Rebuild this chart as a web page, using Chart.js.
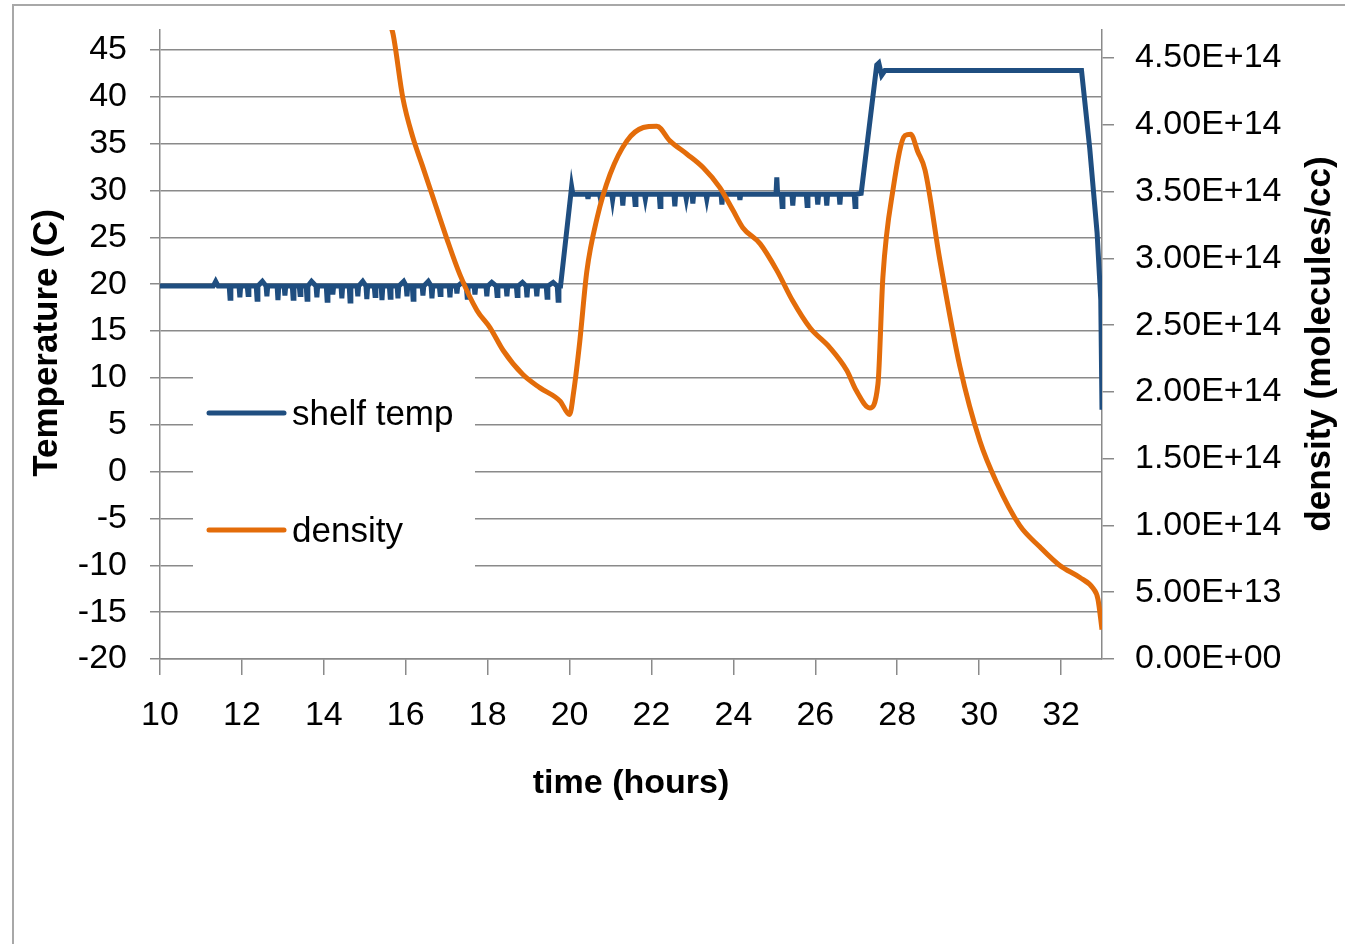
<!DOCTYPE html>
<html>
<head>
<meta charset="utf-8">
<title>shelf temp / density</title>
<script src="https://cdn.jsdelivr.net/npm/chart.js@4"></script>
<style>
  html, body { margin: 0; padding: 0; background: #fff; overflow: hidden; }
  #frame { position: absolute; left: 12px; top: 4px; width: 1400px; height: 1000px; border: 2px solid #a8a8a8; }
  #chart { position: absolute; left: 0; top: 0; }
</style>
</head>
<body>
<div id="frame"></div>
<canvas id="chart" width="1345" height="944"></canvas>
<script>
// tick labels
const timeTicks = [10, 12, 14, 16, 18, 20, 22, 24, 26, 28, 30, 32];
const tempTicks = [-20, -15, -10, -5, 0, 5, 10, 15, 20, 25, 30, 35, 40, 45];
const densityTicks = [0, 5e13, 1e14, 1.5e14, 2e14, 2.5e14, 3e14, 3.5e14, 4e14, 4.5e14];

// shelf temp (hours, C)
const tempTime = [
  10.00, 11.30, 11.36, 11.42,
  11.69, 11.71, 11.73,  11.93, 11.95, 11.97,  12.13, 12.15, 12.17,  12.35, 12.37, 12.39,
  12.50,
  12.59, 12.61, 12.63,  12.86, 12.88, 12.90,  13.03, 13.05, 13.07,  13.23, 13.25, 13.27,
  13.40, 13.42, 13.44,  13.57, 13.59, 13.61,
  13.70,
  13.81, 13.83, 13.85,  14.06, 14.08, 14.10,  14.20, 14.22, 14.24,  14.42, 14.44, 14.46,
  14.62, 14.64, 14.66,  14.81, 14.83, 14.85,
  14.95,
  15.03, 15.05, 15.07,  15.23, 15.25, 15.27,  15.40, 15.42, 15.44,  15.60, 15.62, 15.64,
  15.79, 15.81, 15.83,
  15.95,
  16.01, 16.03, 16.05,  16.16, 16.18, 16.20,  16.40, 16.42, 16.44,
  16.55,
  16.62, 16.64, 16.66,  16.82, 16.84, 16.86,  17.06, 17.08, 17.10,  17.23, 17.25, 17.27,
  17.38,
  17.48, 17.50, 17.52,  17.67, 17.69, 17.71,  17.96, 17.98, 18.00,
  18.10,
  18.21, 18.23, 18.25,  18.45, 18.47, 18.49,  18.70, 18.72, 18.74,
  18.85,
  18.94, 18.96, 18.98,  19.18, 19.20, 19.22,  19.43, 19.45, 19.47,
  19.60,
  19.70, 19.72, 19.74,  19.78,
  20.03, 20.05, 20.08,
  20.43, 20.45, 20.47,  20.73, 20.75, 20.77,  21.03, 21.05, 21.07,
  21.28, 21.30, 21.32,  21.58, 21.60, 21.62,  21.83, 21.85, 21.87,
  22.19, 22.21, 22.23,  22.55, 22.57, 22.59,  22.83, 22.85, 22.87,
  22.99, 23.01, 23.03,  23.33, 23.35, 23.37,  23.70, 23.72, 23.74,
  24.14, 24.16, 24.18,
  25.04, 25.06, 25.08,
  25.17, 25.19, 25.21,  25.43, 25.45, 25.47,  25.78, 25.80, 25.82,
  26.04, 26.06, 26.08,  26.26, 26.28, 26.30,  26.58, 26.60, 26.62,
  26.95, 26.97, 26.99,  27.12,
  27.50, 27.55, 27.62, 27.70, 32.50, 32.70, 32.88, 32.97, 33.00
];
const tempValue = [
  19.8, 19.8, 20.3, 19.8,
  19.8, 18.5, 19.8,  19.8, 18.6, 19.8,  19.8, 18.9, 19.8,  19.8, 18.4, 19.8,
  20.3,
  19.8, 18.7, 19.8,  19.8, 18.3, 19.8,  19.8, 18.8, 19.8,  19.8, 18.5, 19.8,
  19.8, 18.9, 19.8,  19.8, 18.4, 19.8,
  20.3,
  19.8, 18.6, 19.8,  19.8, 18.3, 19.8,  19.8, 18.9, 19.8,  19.8, 18.5, 19.8,
  19.8, 18.2, 19.8,  19.8, 18.7, 19.8,
  20.3,
  19.8, 18.4, 19.8,  19.8, 18.8, 19.8,  19.8, 18.3, 19.8,  19.8, 18.6, 19.8,
  19.8, 18.5, 19.8,
  20.3,
  19.8, 18.7, 19.8,  19.8, 18.4, 19.8,  19.8, 18.8, 19.8,
  20.3,
  19.8, 18.5, 19.8,  19.8, 18.9, 19.8,  19.8, 18.6, 19.8,  19.8, 19.0, 19.8,
  20.2,
  19.8, 18.6, 19.8,  19.8, 18.9, 19.8,  19.8, 18.7, 19.8,
  20.2,
  19.8, 18.8, 19.8,  19.8, 18.7, 19.8,  19.8, 18.8, 19.8,
  20.2,
  19.8, 18.6, 19.8,  19.8, 18.7, 19.8,  19.8, 18.6, 19.8,
  20.2,
  19.8, 18.3, 19.8,  19.8,
  29.6, 30.4, 29.6,
  29.6, 29.1, 29.6,  29.6, 29.2, 29.6,  29.6, 29.0, 29.6,
  29.6, 28.4, 29.6,  29.6, 28.5, 29.6,  29.6, 29.1, 29.6,
  29.6, 28.3, 29.6,  29.6, 28.3, 29.6,  29.6, 29.1, 29.6,
  29.6, 28.6, 29.6,  29.6, 29.1, 29.6,  29.6, 28.5, 29.6,
  29.6, 29.0, 29.6,
  29.6, 31.4, 29.6,
  29.6, 28.3, 29.6,  29.6, 28.4, 29.6,  29.6, 28.4, 29.6,
  29.6, 28.5, 29.6,  29.6, 28.4, 29.6,  29.6, 28.5, 29.6,
  29.6, 28.3, 29.6,  29.7,
  43.4, 43.6, 42.3, 42.8, 42.8, 34.5, 25.5, 18.3, 6.6
];

// density (hours, molecules/cc)
const densityTime = [
  15.62, 15.69, 15.93, 16.18, 16.40, 16.64, 17.00, 17.32, 17.74, 18.06,
  18.38, 18.86, 19.28, 19.77, 20.00, 20.10, 20.25, 20.42, 20.67, 20.99,
  21.40, 21.80, 22.13, 22.45, 22.87, 23.26, 23.67, 23.99, 24.23, 24.65,
  25.06, 25.45, 25.87, 26.36, 26.77, 27.00, 27.33, 27.53, 27.65, 27.90,
  28.19, 28.33, 28.50, 28.68, 29.04, 29.53, 30.02, 30.43, 30.99, 31.48,
  31.97, 32.46, 32.78, 32.90, 33.00
];
const densityValue = [
  4.75e14, 4.68e14, 4.20e14, 3.90e14, 3.70e14, 3.48e14, 3.15e14, 2.88e14, 2.61e14, 2.48e14,
  2.31e14, 2.13e14, 2.03e14, 1.93e14, 1.83e14, 2.00e14, 2.38e14, 2.90e14, 3.30e14, 3.63e14,
  3.88e14, 3.98e14, 3.99e14, 3.88e14, 3.78e14, 3.68e14, 3.53e14, 3.36e14, 3.23e14, 3.11e14,
  2.91e14, 2.68e14, 2.48e14, 2.33e14, 2.16e14, 2.01e14, 1.88e14, 2.06e14, 2.86e14, 3.52e14,
  3.92e14, 3.93e14, 3.80e14, 3.66e14, 2.99e14, 2.19e14, 1.63e14, 1.32e14, 1.00e14, 0.84e14,
  0.70e14, 0.61e14, 0.53e14, 0.45e14, 0.22e14
];

const gridColor = '#8a8a8a';
const fontFamily = '"Liberation Sans", Arial, sans-serif';

// 0.00E+00 风格的刻度
function sci(v) {
  const parts = Number(v).toExponential(2).split('e');
  const sign = parts[1][0];
  const exp = parts[1].slice(1).padStart(2, '0');
  return parts[0] + 'E' + sign + exp;
}

// 固定坐标轴尺寸，去掉标签带来的额外边距
function fixSize(prop, size) {
  return s => {
    s[prop] = size;
    s.paddingTop = 0;
    s.paddingBottom = 0;
    s.paddingLeft = 0;
    s.paddingRight = 0;
  };
}

// 图例和坐标轴标题
const overlay = {
  id: 'overlay',
  afterDatasetsDraw(chart) {
    const ctx = chart.ctx;
    ctx.save();
    ctx.fillStyle = '#fff';
    ctx.fillRect(193, 362, 282, 228);
    chart.data.datasets.forEach((ds, i) => {
      const y = 413 + i * 117;
      ctx.strokeStyle = ds.borderColor;
      ctx.lineWidth = 5;
      ctx.lineCap = 'round';
      ctx.beginPath();
      ctx.moveTo(209, y);
      ctx.lineTo(284, y);
      ctx.stroke();
      ctx.fillStyle = '#000';
      ctx.font = '35px ' + fontFamily;
      ctx.textAlign = 'left';
      ctx.textBaseline = 'alphabetic';
      ctx.fillText(ds.label, 292, y + 12);
    });
    ctx.restore();
  },
  afterDraw(chart) {
    const ctx = chart.ctx;
    ctx.save();
    ctx.fillStyle = '#000';
    ctx.textAlign = 'center';
    ctx.textBaseline = 'alphabetic';

    ctx.font = 'bold 34px ' + fontFamily;
    ctx.fillText('time (hours)', 631, 793);

    ctx.font = 'bold 35px ' + fontFamily;
    ctx.save();
    ctx.translate(57, 343);
    ctx.rotate(-Math.PI / 2);
    ctx.fillText('Temperature (C)', 0, 0);
    ctx.restore();

    ctx.save();
    ctx.translate(1330, 344);
    ctx.rotate(-Math.PI / 2);
    ctx.fillText('density (molecules/cc)', 0, 0);
    ctx.restore();

    ctx.restore();
  }
};

const ctx = document.getElementById('chart');

new Chart(ctx, {
  type: 'line',
  data: {
    datasets: [
      {
        label: 'shelf temp',
        data: tempTime.map((t, i) => ({ x: t, y: tempValue[i] })),
        yAxisID: 'y',
        borderColor: '#1f4e80',
        borderWidth: 5,
        pointRadius: 0,
        tension: 0,
        order: 1
      },
      {
        label: 'density',
        data: densityTime.map((t, i) => ({ x: t, y: densityValue[i] })),
        yAxisID: 'y2',
        borderColor: '#e36c0a',
        borderWidth: 5,
        pointRadius: 0,
        cubicInterpolationMode: 'monotone',
        order: 0
      }
    ]
  },
  options: {
    responsive: false,
    animation: false,
    layout: { autoPadding: false, padding: { top: 30, left: 0, right: 0, bottom: 0 } },
    plugins: {
      legend: { display: false },
      tooltip: { enabled: false }
    },
    scales: {
      x: {
        type: 'linear',
        min: 10,
        max: 33,
        afterBuildTicks: s => { s.ticks = timeTicks.map(v => ({ value: v })); },
        afterFit: fixSize('height', 285),
        grid: { drawOnChartArea: false, drawTicks: true, tickLength: 16, color: gridColor, lineWidth: 1.5 },
        border: { display: true, color: gridColor, width: 1.5 },
        ticks: { color: '#000', font: { family: fontFamily, size: 34 }, padding: 20, maxRotation: 0 }
      },
      y: {
        type: 'linear',
        position: 'left',
        min: -20,
        max: 47.13,
        afterBuildTicks: s => { s.ticks = tempTicks.map(v => ({ value: v })); },
        afterFit: fixSize('width', 160),
        grid: { color: gridColor, lineWidth: 1.5, tickLength: 10 },
        border: { display: true, color: gridColor, width: 1.5 },
        ticks: { color: '#000', font: { family: fontFamily, size: 34 }, padding: 23 }
      },
      y2: {
        type: 'linear',
        position: 'right',
        min: 0,
        max: 4.71e14,
        afterBuildTicks: s => { s.ticks = densityTicks.map(v => ({ value: v })); },
        afterFit: fixSize('width', 243),
        grid: { drawOnChartArea: false, color: gridColor, lineWidth: 1.5, tickLength: 12 },
        border: { display: true, color: gridColor, width: 1.5 },
        ticks: {
          color: '#000',
          font: { family: fontFamily, size: 34 },
          padding: 21,
          callback: v => sci(v)
        }
      }
    }
  },
  plugins: [overlay]
});
</script>
</body>
</html>
